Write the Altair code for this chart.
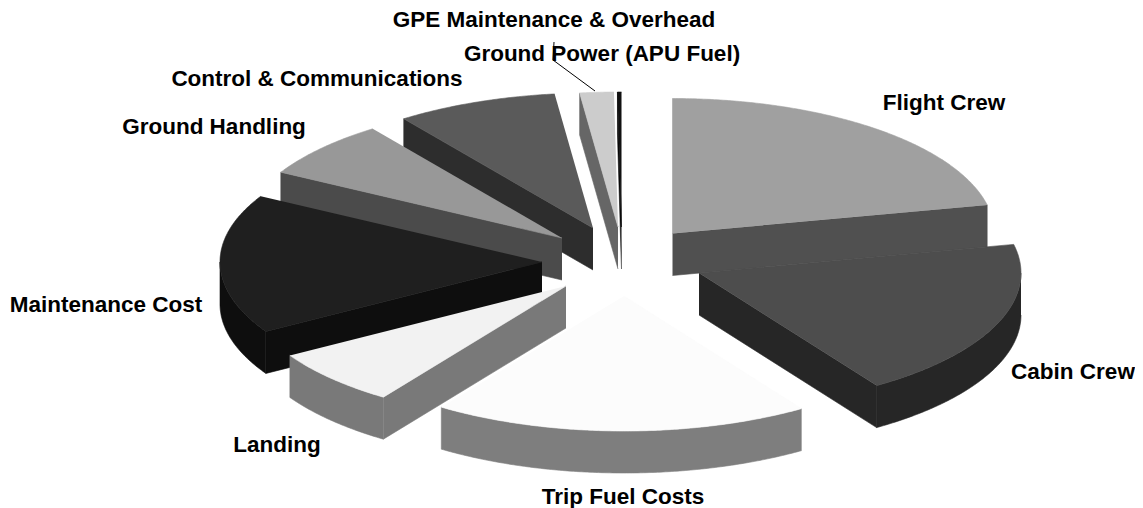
import math
import altair as alt
import pandas as pd

# --- data ---
categories = ["Flight Crew", "Cabin Crew", "Trip Fuel Costs", "Landing", "Maintenance Cost",
              "Ground Handling", "Control & Communications", "Ground Power (APU Fuel)",
              "GPE Maintenance & Overhead"]
shares = [21.6, 19.1, 18.9, 6.8, 16.7, 6.9, 8.1, 1.7, 0.2]

# --- styling and layout ---
top_colors = ["#a0a0a0", "#4d4d4d", "#fcfcfc", "#f2f2f2", "#1f1f1f", "#989898", "#5a5a5a", "#cccccc", "#111111"]
side_colors = ["#505050", "#262626", "#7e7e7e", "#797979", "#0e0e0e", "#4b4b4b", "#2d2d2d", "#666666", "#080808"]
hub_x = [672.5, 699, 624, 566, 542, 562, 593, 618, 621.5]
hub_y = [233.5, 273, 296, 286, 262, 238, 228, 227, 227]
label_x = [944, 1073, 623, 277, 106, 214, 317, 602, 554]
label_y = [103, 372, 497, 445, 305, 127, 79, 54, 20]
draw_order = [7, 8, 6, 5, 0, 4, 1, 3, 2]
RX, RY, DEPTH = 322, 135, 42
W, H = 1127, 500

rows = []
face = 0


def add_face(points, color):
    global face
    for s, (px, py) in enumerate(points):
        rows.append({"face": f"{face:03d}", "seq": s, "x": px, "y": py, "color": color})
    face += 1


def rim(cx, cy, t):
    a = math.radians(t)
    return cx + RX * math.sin(a), cy - RY * math.cos(a)


edges = [0.0]
for v in shares:
    edges.append(edges[-1] + v * 3.6)

for i in draw_order:
    t0, t1 = edges[i], edges[i + 1]
    cx, cy = hub_x[i], hub_y[i]
    side = side_colors[i]
    n = max(2, int((t1 - t0) * 2))
    arc = [t0 + (t1 - t0) * k / n for k in range(n + 1)]
    if 180 < t0 < 360:
        p = rim(cx, cy, t0)
        add_face([(cx, cy), p, (p[0], p[1] + DEPTH), (cx, cy + DEPTH)], side)
    if 0 < t1 < 180:
        p = rim(cx, cy, t1)
        add_face([(cx, cy), p, (p[0], p[1] + DEPTH), (cx, cy + DEPTH)], side)
    lo, hi = max(t0, 90), min(t1, 270)
    if hi > lo:
        m = max(2, int((hi - lo) * 2))
        ts = [lo + (hi - lo) * k / m for k in range(m + 1)]
        upper = [rim(cx, cy, t) for t in ts]
        lower = [(x, y + DEPTH) for x, y in reversed(upper)]
        add_face(upper + lower, side)
    add_face([(cx, cy)] + [rim(cx, cy, t) for t in arc], top_colors[i])

df = pd.DataFrame(rows)
xs = alt.Scale(domain=[8, 8 + W], range=[0, W], nice=False, zero=False)
ys = alt.Scale(domain=[8, 8 + H], range=[0, H], nice=False, zero=False)
noax = None

faces = alt.Chart(df).mark_line(strokeWidth=0.6, clip=False).encode(
    x=alt.X("x:Q", scale=xs, axis=noax),
    y=alt.Y("y:Q", scale=ys, axis=noax),
    order="seq:Q",
    detail="face:N",
    fill=alt.Fill("color:N", scale=None),
    stroke=alt.Stroke("color:N", scale=None),
)

leader_x = [595, 553, 554]
leader_y = [91, 60, 42]
leader = alt.Chart(pd.DataFrame({"x": leader_x, "y": leader_y, "s": [0, 1, 2]})).mark_line(
    color="black", strokeWidth=1).encode(
    x=alt.X("x:Q", scale=xs, axis=noax), y=alt.Y("y:Q", scale=ys, axis=noax), order="s:Q")

labels = alt.Chart(pd.DataFrame({"t": categories, "x": label_x, "y": label_y})).mark_text(
    font="Liberation Sans", fontWeight="bold", fontSize=22.5, color="black", align="center", baseline="middle").encode(
    x=alt.X("x:Q", scale=xs, axis=noax), y=alt.Y("y:Q", scale=ys, axis=noax), text="t:N")

chart = (faces + leader + labels).properties(
    width=W, height=H, padding=0, autosize=alt.AutoSizeParams(type="none")
).configure_view(stroke=None).resolve_scale(fill="independent", stroke="independent")

chart.save("out.html", embed_options={"renderer": "svg", "actions": False})
